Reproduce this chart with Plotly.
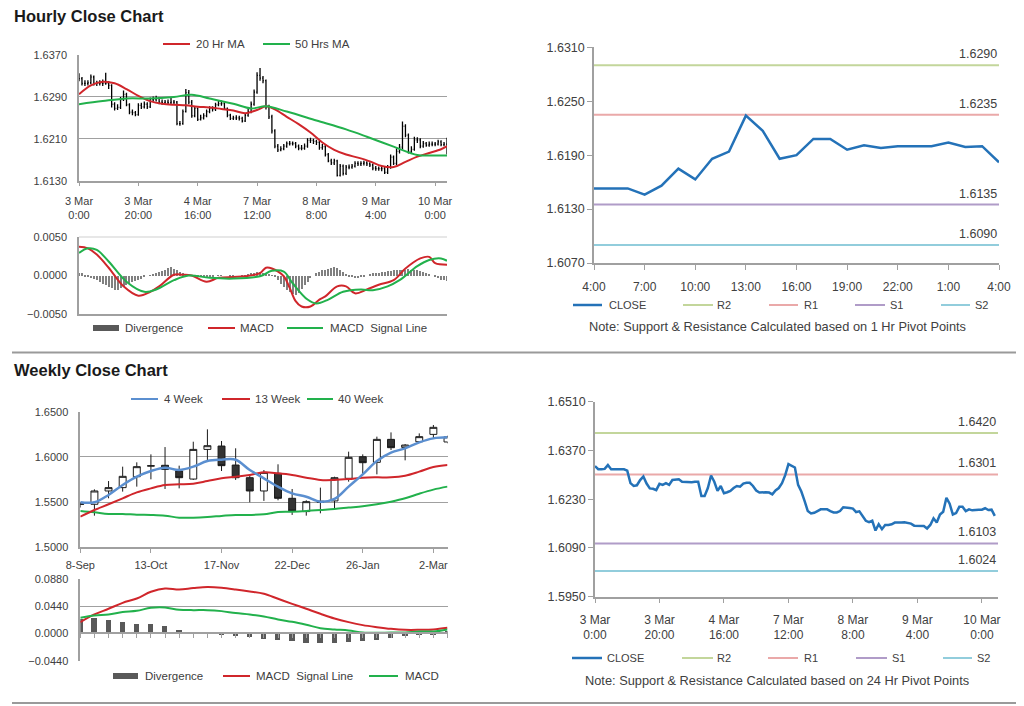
import plotly.graph_objects as go

W, H = 1024, 706
OFF = 8  # page body margin of the browser
FONT = "Liberation Sans, Arial, sans-serif"
TXT = "#404040"
AX = "#a0a0a0"

# ---------------- Hourly data (bars 0..124) ----------------
hourly_tick_idx = [0, 20, 40, 60, 80, 100, 120]
hourly_tick_labels = ["3 Mar<br>0:00", "3 Mar<br>20:00", "4 Mar<br>16:00", "7 Mar<br>12:00",
                      "8 Mar<br>8:00", "9 Mar<br>4:00", "10 Mar<br>0:00"]

hourly_open = [
    1.6330, 1.6325, 1.6316, 1.6316, 1.6317, 1.6328, 1.6316, 1.6316, 1.6316, 1.6316,
    1.6316, 1.6312, 1.6276, 1.6268, 1.6270, 1.6285, 1.6295, 1.6275, 1.6261, 1.6260,
    1.6256, 1.6274, 1.6271, 1.6276, 1.6271, 1.6285, 1.6285, 1.6287, 1.6280, 1.6279,
    1.6280, 1.6279, 1.6280, 1.6280, 1.6239, 1.6239, 1.6262, 1.6298, 1.6280, 1.6254,
    1.6268, 1.6247, 1.6250, 1.6254, 1.6262, 1.6268, 1.6266, 1.6275, 1.6277, 1.6277,
    1.6268, 1.6255, 1.6249, 1.6250, 1.6250, 1.6249, 1.6244, 1.6255, 1.6262, 1.6276,
    1.6299, 1.6331, 1.6326, 1.6321, 1.6271, 1.6252, 1.6225, 1.6196, 1.6189, 1.6191,
    1.6196, 1.6201, 1.6201, 1.6201, 1.6196, 1.6192, 1.6192, 1.6196, 1.6207, 1.6207,
    1.6205, 1.6203, 1.6193, 1.6195, 1.6180, 1.6168, 1.6164, 1.6168, 1.6140, 1.6158,
    1.6144, 1.6156, 1.6156, 1.6158, 1.6163, 1.6162, 1.6163, 1.6164, 1.6162, 1.6160,
    1.6154, 1.6153, 1.6153, 1.6153, 1.6146, 1.6156, 1.6175, 1.6163, 1.6186, 1.6194,
    1.6234, 1.6217, 1.6186, 1.6190, 1.6208, 1.6208, 1.6196, 1.6201, 1.6198, 1.6200,
    1.6200, 1.6200, 1.6204, 1.6199, 1.6200]
hourly_high = [
    1.6335, 1.6328, 1.6322, 1.6322, 1.6333, 1.6331, 1.6321, 1.6322, 1.6323, 1.6336,
    1.6320, 1.6314, 1.6280, 1.6276, 1.6290, 1.6302, 1.6298, 1.6278, 1.6266, 1.6263,
    1.6278, 1.6279, 1.6281, 1.6280, 1.6289, 1.6291, 1.6292, 1.6290, 1.6285, 1.6284,
    1.6285, 1.6290, 1.6284, 1.6282, 1.6244, 1.6266, 1.6305, 1.6303, 1.6284, 1.6272,
    1.6270, 1.6256, 1.6259, 1.6266, 1.6272, 1.6272, 1.6279, 1.6282, 1.6283, 1.6280,
    1.6270, 1.6258, 1.6254, 1.6255, 1.6254, 1.6252, 1.6259, 1.6267, 1.6281, 1.6304,
    1.6337, 1.6345, 1.6330, 1.6323, 1.6275, 1.6256, 1.6228, 1.6200, 1.6196, 1.6200,
    1.6205, 1.6206, 1.6205, 1.6204, 1.6199, 1.6198, 1.6201, 1.6211, 1.6212, 1.6210,
    1.6208, 1.6206, 1.6200, 1.6198, 1.6183, 1.6172, 1.6172, 1.6170, 1.6162, 1.6161,
    1.6160, 1.6161, 1.6162, 1.6167, 1.6167, 1.6167, 1.6168, 1.6167, 1.6165, 1.6163,
    1.6158, 1.6157, 1.6158, 1.6156, 1.6160, 1.6180, 1.6178, 1.6192, 1.6200, 1.6243,
    1.6238, 1.6220, 1.6196, 1.6214, 1.6213, 1.6211, 1.6206, 1.6204, 1.6205, 1.6205,
    1.6204, 1.6208, 1.6207, 1.6204, 1.6212]
hourly_low = [
    1.6320, 1.6312, 1.6311, 1.6312, 1.6314, 1.6312, 1.6311, 1.6312, 1.6311, 1.6313,
    1.6305, 1.6270, 1.6264, 1.6265, 1.6267, 1.6282, 1.6272, 1.6257, 1.6255, 1.6253,
    1.6254, 1.6267, 1.6268, 1.6267, 1.6269, 1.6281, 1.6281, 1.6276, 1.6275, 1.6276,
    1.6275, 1.6276, 1.6276, 1.6236, 1.6235, 1.6237, 1.6260, 1.6276, 1.6250, 1.6251,
    1.6244, 1.6245, 1.6247, 1.6251, 1.6259, 1.6262, 1.6263, 1.6272, 1.6273, 1.6265,
    1.6251, 1.6246, 1.6246, 1.6246, 1.6245, 1.6241, 1.6242, 1.6252, 1.6259, 1.6273,
    1.6296, 1.6321, 1.6316, 1.6266, 1.6248, 1.6220, 1.6192, 1.6185, 1.6186, 1.6188,
    1.6193, 1.6197, 1.6197, 1.6192, 1.6188, 1.6188, 1.6189, 1.6193, 1.6202, 1.6200,
    1.6198, 1.6189, 1.6189, 1.6176, 1.6165, 1.6160, 1.6160, 1.6138, 1.6138, 1.6140,
    1.6141, 1.6152, 1.6153, 1.6155, 1.6158, 1.6158, 1.6159, 1.6158, 1.6156, 1.6150,
    1.6149, 1.6149, 1.6148, 1.6143, 1.6143, 1.6153, 1.6160, 1.6160, 1.6182, 1.6190,
    1.6213, 1.6182, 1.6183, 1.6187, 1.6202, 1.6192, 1.6193, 1.6195, 1.6195, 1.6196,
    1.6196, 1.6197, 1.6196, 1.6196, 1.6180]
hourly_close = [
    1.6325, 1.6316, 1.6316, 1.6317, 1.6328, 1.6316, 1.6316, 1.6316, 1.6316, 1.6316,
    1.6312, 1.6276, 1.6268, 1.6270, 1.6285, 1.6295, 1.6275, 1.6261, 1.6260, 1.6256,
    1.6274, 1.6271, 1.6276, 1.6271, 1.6285, 1.6285, 1.6287, 1.6280, 1.6279, 1.6280,
    1.6279, 1.6280, 1.6280, 1.6239, 1.6239, 1.6262, 1.6298, 1.6280, 1.6254, 1.6268,
    1.6247, 1.6250, 1.6254, 1.6262, 1.6268, 1.6266, 1.6275, 1.6277, 1.6277, 1.6268,
    1.6255, 1.6249, 1.6250, 1.6250, 1.6249, 1.6244, 1.6255, 1.6262, 1.6276, 1.6299,
    1.6331, 1.6326, 1.6321, 1.6271, 1.6252, 1.6225, 1.6196, 1.6189, 1.6191, 1.6196,
    1.6201, 1.6201, 1.6201, 1.6196, 1.6192, 1.6192, 1.6196, 1.6207, 1.6207, 1.6205,
    1.6203, 1.6193, 1.6195, 1.6180, 1.6168, 1.6164, 1.6168, 1.6140, 1.6158, 1.6144,
    1.6156, 1.6156, 1.6158, 1.6163, 1.6162, 1.6163, 1.6164, 1.6162, 1.6160, 1.6154,
    1.6153, 1.6153, 1.6153, 1.6146, 1.6156, 1.6175, 1.6163, 1.6186, 1.6194, 1.6234,
    1.6217, 1.6186, 1.6190, 1.6208, 1.6208, 1.6196, 1.6201, 1.6198, 1.6200, 1.6200,
    1.6200, 1.6204, 1.6199, 1.6200, 1.6182]
hourly_idx = list(range(len(hourly_close)))

ma20_idx = [0, 4, 8, 12, 16, 20, 24, 28, 32, 36, 40, 44, 48, 52, 56, 60, 63, 66, 70, 74,
            78, 82, 86, 90, 94, 98, 102, 106, 110, 114, 118, 122, 124]
ma20_val = [1.6295, 1.6312, 1.6319, 1.6316, 1.6305, 1.6292, 1.6282, 1.6277, 1.6275, 1.6274,
            1.6271, 1.6270, 1.6267, 1.6264, 1.6259, 1.6265, 1.6272, 1.6266, 1.6252, 1.6238,
            1.6222, 1.6203, 1.6189, 1.6180, 1.6174, 1.6167, 1.6158, 1.6156, 1.6166, 1.6176,
            1.6183, 1.6190, 1.6196]
ma50_idx = [0, 8, 16, 24, 32, 38, 44, 52, 58, 63, 70, 80, 90, 97, 106, 114, 118, 124]
ma50_val = [1.6276, 1.6282, 1.6287, 1.6287, 1.6290, 1.6294, 1.6287, 1.6277, 1.6268, 1.6272,
            1.6262, 1.6245, 1.6228, 1.6214, 1.6195, 1.6179, 1.6178, 1.6178]

hourly_divergence = [
    0.0004, 0.0003, -0.0001, -0.0002, -0.0003, -0.0004, -0.0006, -0.0008, -0.0010, -0.0012,
    -0.0014, -0.0016, -0.0018, -0.0018, -0.0016, -0.0014, -0.0012, -0.0010, -0.0008, -0.0007,
    -0.0005, -0.0004, -0.0002, 0.0000, 0.0001, 0.0002, 0.0003, 0.0005, 0.0006, 0.0008,
    0.0010, 0.0011, 0.0009, 0.0007, 0.0005, 0.0003, 0.0001, 0.0001, 0.0000, -0.0001,
    -0.0001, -0.0002, -0.0002, -0.0002, -0.0001, -0.0001, 0.0000, 0.0001, 0.0001, 0.0000,
    0.0000, -0.0001, -0.0001, 0.0000, 0.0000, 0.0001, 0.0001, 0.0002, 0.0003, 0.0004,
    0.0005, 0.0005, 0.0004, 0.0003, 0.0002, 0.0001, -0.0002, -0.0006, -0.0010, -0.0014,
    -0.0018, -0.0021, -0.0023, -0.0025, -0.0022, -0.0017, -0.0012, -0.0008, -0.0003, 0.0000,
    0.0003, 0.0005, 0.0007, 0.0008, 0.0009, 0.0010, 0.0011, 0.0010, 0.0008, 0.0005,
    0.0002, -0.0001, -0.0002, -0.0003, -0.0003, -0.0002, -0.0001, 0.0000, 0.0002, 0.0003,
    0.0004, 0.0004, 0.0005, 0.0005, 0.0006, 0.0006, 0.0007, 0.0007, 0.0007, 0.0008,
    0.0008, 0.0009, 0.0008, 0.0008, 0.0007, 0.0006, 0.0005, 0.0003, 0.0002, 0.0000,
    -0.0002, -0.0003, -0.0005, -0.0006, -0.0007]
macd_idx = [0, 3, 6, 10, 15, 20, 24, 27, 32, 35, 38, 43, 47, 52, 56, 61, 63, 65, 69, 71,
            73, 75, 78, 81, 83, 87, 90, 93, 97, 101, 106, 110, 115, 118, 120, 124]
macd_val = [0.0037, 0.0035, 0.0027, 0.0010, -0.0014, -0.0026, -0.0021, -0.0014, 0.0001, 0.0001,
            0.0000, -0.0008, -0.0003, -0.0002, -0.0001, 0.0003, 0.0010, 0.0009, -0.0001, -0.0016,
            -0.0033, -0.0040, -0.0040, -0.0031, -0.0027, -0.0014, -0.0014, -0.0023, -0.0018, -0.0012,
            -0.0006, 0.0009, 0.0022, 0.0024, 0.0016, 0.0014]
signal_idx = [0, 3, 6, 10, 16, 22, 26, 32, 37, 44, 52, 61, 65, 69, 72, 77, 80, 84, 89, 95,
              99, 104, 108, 114, 118, 122, 124]
signal_val = [0.0029, 0.0035, 0.0033, 0.0018, -0.0008, -0.0021, -0.0018, -0.0006, 0.0000, -0.0003,
              -0.0004, -0.0001, 0.0006, 0.0005, -0.0010, -0.0031, -0.0036, -0.0031, -0.0021, -0.0018,
              -0.0019, -0.0014, -0.0006, 0.0012, 0.0020, 0.0022, 0.0019]

# last 24 hours (1 Hr pivot chart): bars 100..124
day_start = 100
day_hours = ["4:00", "7:00", "10:00", "13:00", "16:00", "19:00", "22:00", "1:00", "4:00"]
hr_levels = {"R2": 1.6290, "R1": 1.6235, "S1": 1.6135, "S2": 1.6090}
d24_levels = {"R2": 1.6420, "R1": 1.6301, "S1": 1.6103, "S2": 1.6024}

# ---------------- Weekly data ----------------
wk_labels = ["8-Sep", "13-Oct", "17-Nov", "22-Dec", "26-Jan", "2-Mar"]
wk_label_idx = [0, 5, 10, 15, 20, 25]
wk_open = [1.5476, 1.5476, 1.5623, 1.5660, 1.5781, 1.5898, 1.5907, 1.5844, 1.5755, 1.6083,
           1.6120, 1.5910, 1.5770, 1.5623, 1.5818, 1.5542, 1.5395, 1.5510, 1.5513, 1.5763,
           1.6002, 1.5940, 1.6194, 1.6105, 1.6168, 1.6249, 1.6165]
wk_high = [1.5495, 1.5641, 1.5733, 1.5892, 1.5940, 1.6028, 1.6109, 1.5903, 1.6168, 1.6305,
           1.6176, 1.6095, 1.5800, 1.5855, 1.5918, 1.5645, 1.5520, 1.5660, 1.5781, 1.6058,
           1.6028, 1.6224, 1.6271, 1.6142, 1.6260, 1.6353, 1.6235]
wk_low = [1.5440, 1.5350, 1.5542, 1.5616, 1.5671, 1.5752, 1.5645, 1.5652, 1.5745, 1.5955,
          1.5844, 1.5745, 1.5498, 1.5513, 1.5520, 1.5358, 1.5350, 1.5376, 1.5413, 1.5726,
          1.5800, 1.5807, 1.6076, 1.5962, 1.6161, 1.6205, 1.6150]
wk_close = [1.5478, 1.5623, 1.5660, 1.5785, 1.5892, 1.5902, 1.5862, 1.5770, 1.6083, 1.6124,
            1.5903, 1.5770, 1.5623, 1.5829, 1.5542, 1.5402, 1.5505, 1.5500, 1.5770, 1.5995,
            1.5936, 1.6194, 1.6102, 1.6131, 1.6224, 1.6327, 1.6222]
wk_idx = list(range(len(wk_close)))
wk_ma4 = [1.5498, 1.5498, 1.5579, 1.5689, 1.5781, 1.5844, 1.5881, 1.5855, 1.5892, 1.5955,
          1.5969, 1.5969, 1.5855, 1.5763, 1.5671, 1.5597, 1.5560, 1.5505, 1.5535, 1.5671,
          1.5807, 1.5955, 1.6047, 1.6095, 1.6161, 1.6205, 1.6216]
wk_ma13 = [1.5339, 1.5413, 1.5476, 1.5542, 1.5608, 1.5652, 1.5689, 1.5697, 1.5704, 1.5733,
           1.5763, 1.5781, 1.5800, 1.5829, 1.5818, 1.5800, 1.5770, 1.5745, 1.5745, 1.5755,
           1.5770, 1.5774, 1.5774, 1.5792, 1.5837, 1.5888, 1.5910]
wk_ma40 = [1.5402, 1.5387, 1.5369, 1.5369, 1.5361, 1.5358, 1.5350, 1.5328, 1.5328, 1.5335,
           1.5347, 1.5358, 1.5358, 1.5365, 1.5391, 1.5394, 1.5402, 1.5413, 1.5424, 1.5439,
           1.5454, 1.5476, 1.5505, 1.5542, 1.5593, 1.5638, 1.5671]
wk_divergence = [0.0226, 0.0253, 0.0215, 0.0188, 0.0151, 0.0151, 0.0113, 0.0059, 0.0027, 0.0003,
                 -0.0027, -0.0043, -0.0059, -0.0097, -0.0113, -0.0129, -0.0162, -0.0162, -0.0162, -0.0145,
                 -0.0129, -0.0113, -0.0081, -0.0043, -0.0022, -0.0011, 0.0048]
wk_signal = [0.0183, 0.0307, 0.0399, 0.0495, 0.0565, 0.0673, 0.0727, 0.0711, 0.0733, 0.0749,
             0.0738, 0.0711, 0.0679, 0.0641, 0.0560, 0.0479, 0.0399, 0.0318, 0.0242, 0.0183,
             0.0135, 0.0102, 0.0075, 0.0059, 0.0059, 0.0065, 0.0092]
wk_macd = [0.0253, 0.0291, 0.0307, 0.0345, 0.0366, 0.0415, 0.0420, 0.0382, 0.0377, 0.0377,
           0.0361, 0.0329, 0.0307, 0.0275, 0.0226, 0.0188, 0.0140, 0.0086, 0.0065, 0.0048,
           0.0016, 0.0011, 0.0016, 0.0016, 0.0032, 0.0032, 0.0065]

# ---------------- colours ----------------
RED = "#d0262b"
GREEN = "#22b14c"
BLUE4 = "#5b8fd0"
CLOSE_C = "#2472b8"
LVL_C = {"R2": "#c3d69b", "R1": "#eaa9a9", "S1": "#b09cc8", "S2": "#92cddc"}


def px(x):
    return (x - OFF) / W


def py(y):
    return 1 - (y - OFF) / H


def dom_x(a, b):
    return [px(a), px(b)]


def dom_y(top, bottom):
    return [py(bottom), py(top)]


fig = go.Figure()

# ---- A: hourly OHLC ----
fig.add_trace(go.Ohlc(x=hourly_idx, open=hourly_open, high=hourly_high, low=hourly_low,
                      close=hourly_close, xaxis="x", yaxis="y", tickwidth=0.3,
                      increasing=dict(line=dict(color="#000000", width=1.3)),
                      decreasing=dict(line=dict(color="#000000", width=1.3)), hoverinfo="skip"))
fig.add_trace(go.Scatter(x=ma20_idx, y=ma20_val, mode="lines", line=dict(color=RED, width=2, shape="spline"),
                         xaxis="x", yaxis="y"))
fig.add_trace(go.Scatter(x=ma50_idx, y=ma50_val, mode="lines", line=dict(color=GREEN, width=2, shape="spline"),
                         xaxis="x", yaxis="y"))

# ---- B: hourly MACD ----
fig.add_trace(go.Bar(x=hourly_idx, y=hourly_divergence, width=0.35, marker=dict(color="#808080", line_width=0),
                     xaxis="x2", yaxis="y2"))
fig.add_trace(go.Scatter(x=macd_idx, y=macd_val, mode="lines", line=dict(color=RED, width=2, shape="spline"),
                         xaxis="x2", yaxis="y2"))
fig.add_trace(go.Scatter(x=signal_idx, y=signal_val, mode="lines", line=dict(color=GREEN, width=2, shape="spline"),
                         xaxis="x2", yaxis="y2"))

# ---- C: 1 Hr pivot chart ----
day_close = hourly_close[day_start:]
day_x = list(range(len(day_close)))
for k in ["R2", "R1", "S1", "S2"]:
    fig.add_trace(go.Scatter(x=[0, 24], y=[hr_levels[k]] * 2, mode="lines",
                             line=dict(color=LVL_C[k], width=2), xaxis="x3", yaxis="y3"))
fig.add_trace(go.Scatter(x=day_x, y=day_close, mode="lines", line=dict(color=CLOSE_C, width=2.5),
                         xaxis="x3", yaxis="y3"))

# ---- D: weekly candles ----
fig.add_trace(go.Candlestick(x=wk_idx, open=wk_open, high=wk_high, low=wk_low, close=wk_close,
                             xaxis="x4", yaxis="y4", whiskerwidth=0,
                             increasing=dict(line=dict(color="#1a1a1a", width=1), fillcolor="#ffffff"),
                             decreasing=dict(line=dict(color="#1a1a1a", width=1), fillcolor="#333333"),
                             hoverinfo="skip"))
fig.add_trace(go.Scatter(x=wk_idx, y=wk_ma40, mode="lines", line=dict(color=GREEN, width=2, shape="spline"),
                         xaxis="x4", yaxis="y4"))
fig.add_trace(go.Scatter(x=wk_idx, y=wk_ma13, mode="lines", line=dict(color=RED, width=2, shape="spline"),
                         xaxis="x4", yaxis="y4"))
fig.add_trace(go.Scatter(x=wk_idx, y=wk_ma4, mode="lines", line=dict(color=BLUE4, width=2.5, shape="spline"),
                         xaxis="x4", yaxis="y4"))

# ---- E: weekly MACD ----
fig.add_trace(go.Bar(x=wk_idx, y=wk_divergence, width=0.38, marker=dict(color="#595959", line_width=0),
                     xaxis="x5", yaxis="y5"))
fig.add_trace(go.Scatter(x=wk_idx, y=wk_signal, mode="lines", line=dict(color=RED, width=2, shape="spline"),
                         xaxis="x5", yaxis="y5"))
fig.add_trace(go.Scatter(x=wk_idx, y=wk_macd, mode="lines", line=dict(color=GREEN, width=2, shape="spline"),
                         xaxis="x5", yaxis="y5"))

# ---- F: 24 Hr pivot chart ----
for k in ["R2", "R1", "S1", "S2"]:
    fig.add_trace(go.Scatter(x=[0, 125], y=[d24_levels[k]] * 2, mode="lines",
                             line=dict(color=LVL_C[k], width=2), xaxis="x6", yaxis="y6"))
fig.add_trace(go.Scatter(x=hourly_idx, y=hourly_close, mode="lines", line=dict(color=CLOSE_C, width=2.5),
                         xaxis="x6", yaxis="y6"))

# ---------------- axes ----------------
base_x = dict(showgrid=False, zeroline=False, showline=True, linecolor=AX, linewidth=1.5,
              tickcolor=AX, automargin=False, tickfont=dict(family=FONT, size=11, color=TXT))
base_y = dict(zeroline=False, showline=True, linecolor=AX, linewidth=1.5, tickcolor=AX,
              gridcolor=AX, gridwidth=1.3, tickformat=".4f", automargin=False,
              tickfont=dict(family=FONT, size=11, color=TXT))

LX = dom_x(79, 447)
WX = dom_x(80.3, 447.5)
E_zero = 579 + (0.088 / 0.132) * (660.7 - 579)

fig.update_layout(
    width=W, height=H, margin=dict(l=0, r=0, t=0, b=0, pad=0, autoexpand=False),
    paper_bgcolor="white", plot_bgcolor="white", showlegend=False,
    font=dict(family=FONT, color=TXT),
    xaxis=dict(base_x, domain=LX, range=[0, 124], anchor="y", tickvals=hourly_tick_idx,
               ticktext=hourly_tick_labels, ticks="outside", ticklen=4, ticklabelstandoff=5,
               rangeslider=dict(visible=False)),
    yaxis=dict(base_y, domain=dom_y(55, 180.7), range=[1.6130, 1.6370], anchor="x",
               tickvals=[1.6130, 1.6210, 1.6290, 1.6370], showgrid=True, ticks="", ticklabelstandoff=8),
    xaxis2=dict(base_x, domain=LX, range=[0, 124], anchor="y2", showticklabels=False, ticks=""),
    yaxis2=dict(base_y, domain=dom_y(236.7, 314.3), range=[-0.005, 0.005], anchor="x2",
                tickvals=[-0.005, 0, 0.005], showgrid=False, ticks="", ticklabelstandoff=8),
    xaxis3=dict(base_x, domain=dom_x(594, 999), range=[0, 24], anchor="y3",
                tickvals=[0, 3, 6, 9, 12, 15, 18, 21, 24], ticktext=day_hours, ticks="outside",
                ticklen=5, ticklabelstandoff=7, tickfont=dict(family=FONT, size=12, color=TXT)),
    yaxis3=dict(base_y, domain=dom_y(47.3, 263), range=[1.6070, 1.6310], anchor="x3",
                tickvals=[1.6070, 1.6130, 1.6190, 1.6250, 1.6310], showgrid=False, ticks="outside",
                ticklen=5, tickfont=dict(family=FONT, size=12.5, color=TXT)),
    xaxis4=dict(base_x, domain=WX, range=[0, 26], anchor="y4", tickvals=wk_label_idx,
                ticktext=wk_labels, ticks="outside", ticklen=4, ticklabelstandoff=3,
                rangeslider=dict(visible=False)),
    yaxis4=dict(base_y, domain=dom_y(411.7, 547.3), range=[1.5000, 1.6500], anchor="x4",
                tickvals=[1.50, 1.55, 1.60, 1.65], showgrid=True, ticks="", ticklabelstandoff=8),
    xaxis5=dict(base_x, domain=WX, range=[0, 26], anchor="free", position=py(E_zero),
                showticklabels=False, ticks="outside", ticklen=4, tick0=0, dtick=1),
    yaxis5=dict(base_y, domain=dom_y(579, 660.7), range=[-0.044, 0.088], anchor="x5",
                tickvals=[-0.044, 0, 0.044, 0.088], showgrid=True, ticks="", ticklabelstandoff=8),
    xaxis6=dict(base_x, domain=dom_x(595, 998), range=[0, 125], anchor="y6", tickvals=hourly_tick_idx,
                ticktext=hourly_tick_labels, ticks="outside", ticklen=5, ticklabelstandoff=6,
                tickfont=dict(family=FONT, size=12, color=TXT)),
    yaxis6=dict(base_y, domain=dom_y(401.7, 596.7), range=[1.5950, 1.6510], anchor="x6",
                tickvals=[1.5950, 1.6090, 1.6230, 1.6370, 1.6510], showgrid=False, ticks="outside",
                ticklen=5, tickfont=dict(family=FONT, size=12.5, color=TXT)),
    bargap=0,
)

shapes = []
annotations = []

# top gridline of hourly MACD
shapes.append(dict(type="line", xref="x2 domain", yref="y2", x0=0, x1=1, y0=0.005, y1=0.005,
                   line=dict(color=AX, width=1.3)))

# separators
for yy in [352.5, 703]:
    shapes.append(dict(type="line", xref="paper", yref="paper", x0=px(12), x1=1, y0=py(yy), y1=py(yy),
                       line=dict(color="#9a9a9a", width=2)))

# titles
for txt, yy in [("Hourly Close Chart", 16), ("Weekly Close Chart", 370)]:
    annotations.append(dict(text="<b>%s</b>" % txt, x=px(12), y=py(yy), xref="paper", yref="paper",
                            xanchor="left", yanchor="middle", showarrow=False,
                            font=dict(family=FONT, size=16.5, color="#1a1a1a")))


def legend_line(x0, x1, yy, color, width=2):
    shapes.append(dict(type="line", xref="paper", yref="paper", x0=px(x0), x1=px(x1), y0=py(yy), y1=py(yy),
                       line=dict(color=color, width=width)))


def legend_rect(x0, x1, yy, color):
    shapes.append(dict(type="rect", xref="paper", yref="paper", x0=px(x0), x1=px(x1), y0=py(yy + 3),
                       y1=py(yy - 3), fillcolor=color, line=dict(width=0)))


def legend_text(x, yy, txt, size=11.5):
    annotations.append(dict(text=txt, x=px(x), y=py(yy), xref="paper", yref="paper", xanchor="left",
                            yanchor="middle", showarrow=False, font=dict(family=FONT, size=size, color=TXT)))


# hourly price legend
legend_line(163, 190, 44, RED); legend_text(194, 44, "20 Hr MA")
legend_line(263, 290, 44, GREEN); legend_text(293, 44, "50 Hrs MA")
# hourly MACD legend
legend_rect(93, 119, 328, "#595959"); legend_text(123, 328, "Divergence")
legend_line(208, 235, 328, RED); legend_text(238, 328, "MACD")
legend_line(287, 323, 328, GREEN); legend_text(328, 328, "MACD  Signal Line")
# weekly price legend
legend_line(131, 158, 399, BLUE4); legend_text(162, 399, "4 Week")
legend_line(222, 250, 399, RED); legend_text(253, 399, "13 Week")
legend_line(307, 333, 399, GREEN); legend_text(336, 399, "40 Week")
# weekly MACD legend
legend_rect(113, 138, 676, "#595959"); legend_text(143, 676, "Divergence")
legend_line(223, 250, 676, RED); legend_text(254, 676, "MACD  Signal Line")
legend_line(369, 398, 676, GREEN); legend_text(403, 676, "MACD")

# pivot chart legends
for yy, xs in [(305, [(573, 602, 607), (683, 713, 715), (769, 798, 802), (855, 885, 888), (941, 970, 973)]),
               (658, [(572, 602, 605), (682, 713, 715), (768, 798, 802), (856, 887, 890), (943, 972, 975)])]:
    names = ["CLOSE", "R2", "R1", "S1", "S2"]
    cols = [CLOSE_C, LVL_C["R2"], LVL_C["R1"], LVL_C["S1"], LVL_C["S2"]]
    for (a, b, t), nm, c in zip(xs, names, cols):
        legend_line(a, b, yy, c, width=2 if nm != "CLOSE" else 2.5)
        legend_text(t, yy, nm, size=11)

for yy, txt in [(327, "Note: Support & Resistance Calculated based on 1 Hr Pivot Points"),
                (680, "Note: Support & Resistance Calculated based on 24 Hr Pivot Points")]:
    annotations.append(dict(text=txt, x=px(777), y=py(yy), xref="paper", yref="paper", xanchor="center",
                            yanchor="middle", showarrow=False, font=dict(family=FONT, size=12.8, color=TXT)))

# level value labels
for k in ["R2", "R1", "S1", "S2"]:
    annotations.append(dict(text="%.4f" % hr_levels[k], x=1, y=hr_levels[k], xref="x3 domain", yref="y3",
                            xanchor="right", yanchor="bottom", yshift=2, showarrow=False,
                            font=dict(family=FONT, size=12.5, color=TXT)))
    annotations.append(dict(text="%.4f" % d24_levels[k], x=1, y=d24_levels[k], xref="x6 domain", yref="y6",
                            xanchor="right", yanchor="bottom", yshift=2, showarrow=False,
                            font=dict(family=FONT, size=12.5, color=TXT)))

fig.update_layout(shapes=shapes, annotations=annotations)
fig.write_html("out.html", config={"displayModeBar": False})
